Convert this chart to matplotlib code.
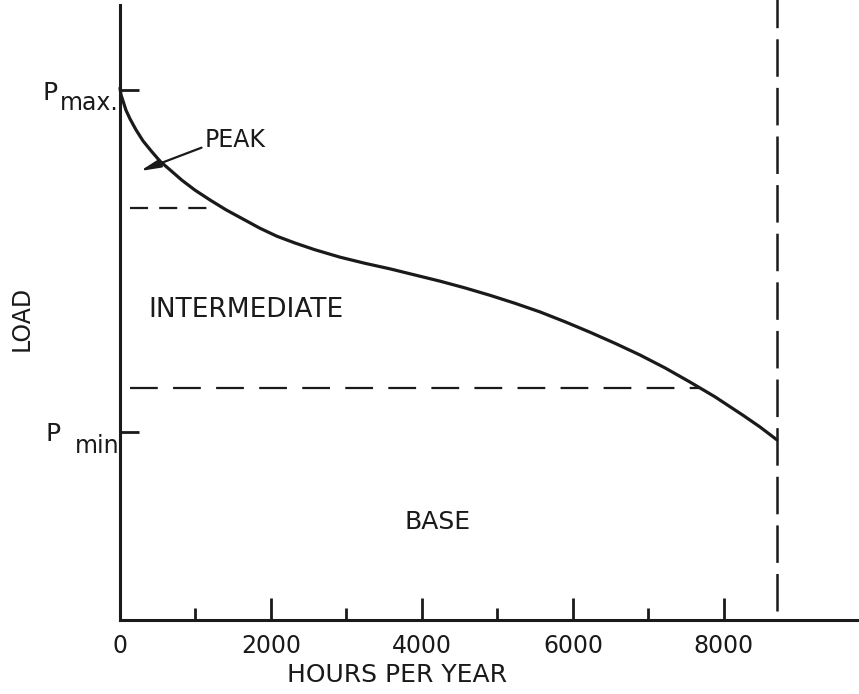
import numpy as np
import matplotlib
matplotlib.use('Agg')
from matplotlib import pyplot as plt

# load duration curve (hours, load in % of axis height)
horas = [0, 13, 40, 79, 132, 212, 305, 411, 530, 662, 821, 993, 1192, 1404,
         1629, 1854, 2079, 2318, 2583, 2914, 3245, 3576, 3907, 4238, 4570,
         4901, 5232, 5563, 5894, 6225, 6556, 6887, 7219, 7550, 7881, 8252,
         8477, 8702]
carga = [86.5, 85.4, 84.4, 82.9, 81.5, 79.7, 77.9, 76.3, 74.6, 73.2, 71.5, 69.9,
         68.3, 66.7, 65.2, 63.7, 62.4, 61.3, 60.2, 59.0, 58.0, 57.1, 56.1, 55.1,
         54.0, 52.8, 51.5, 50.1, 48.5, 46.8, 45.0, 43.1, 41.0, 38.7, 36.3, 33.3,
         31.4, 29.3]

p_max = 86.2
p_min = 30.6
lim_pico = 67.0          # fronteira pico / intermediaria
lim_base = 37.7          # fronteira intermediaria / base
fim_ano = 8702           # linha vertical tracejada

xticks_maior = [0, 2000, 4000, 6000, 8000]
xticks_menor = [1000, 3000, 5000, 7000]

plt.rcParams['font.family'] = ['DejaVu Sans']
plt.rcParams['lines.scale_dashes'] = False

fig = plt.figure(figsize=(8.59, 6.94), dpi=100)
ax = fig.add_axes([120 / 859, 74 / 694, 739 / 859, 615 / 694])
ax.set_xlim(0, 9790)
ax.set_ylim(0, 100)

preto = '#1a1a1a'

# curva de carga
ax.plot(horas, carga, color=preto, lw=2.3, solid_capstyle='round',
        solid_joinstyle='round', clip_on=False)

# linhas tracejadas
ax.plot([132, 1150], [lim_pico, lim_pico], color=preto, lw=1.6, dashes=(13, 8))
ax.plot([132, 7682], [lim_base, lim_base], color=preto, lw=1.6, dashes=(20, 11))
ax.plot([fim_ano, fim_ano], [1.5, 101], color=preto, lw=1.8, dashes=(27, 8), clip_on=False)

# eixos
for s in ['top', 'right']:
    ax.spines[s].set_visible(False)
for s in ['left', 'bottom']:
    ax.spines[s].set_linewidth(2.2)
    ax.spines[s].set_color(preto)

ax.set_xticks(xticks_maior)
ax.set_xticks(xticks_menor, minor=True)
ax.tick_params(axis='x', which='major', direction='in', length=16, width=2, pad=10,
               labelsize=17, colors=preto)
ax.tick_params(axis='x', which='minor', direction='in', length=9, width=2, colors=preto)

ax.set_yticks([p_max, p_min])
ax.set_yticklabels(['', ''])
ax.tick_params(axis='y', direction='in', length=14, width=2, colors=preto)

# textos
ax.text(-1033, 84.6, 'P', fontsize=18, va='baseline', ha='left', color=preto, clip_on=False)
ax.text(-795, 83.0, 'max.', fontsize=17, va='baseline', ha='left', color=preto, clip_on=False)
ax.text(-990, 29.1, 'P', fontsize=18, va='baseline', ha='left', color=preto, clip_on=False)
ax.text(-600, 27.1, 'min', fontsize=17, va='baseline', ha='left', color=preto, clip_on=False)

ax.text(-1298, 49.1, 'LOAD', fontsize=17, rotation=90, ha='center', va='center',
        color=preto, clip_on=False)

ax.text(1126, 78.0, 'PEAK', fontsize=17, ha='left', va='center', color=preto)
ax.annotate('', xy=(265, 73.0), xytext=(1080, 76.8),
            arrowprops=dict(arrowstyle='-|>,head_length=1.2,head_width=0.25',
                            color=preto, lw=1.6, shrinkA=0, shrinkB=0))

ax.text(371, 50.4, 'INTERMEDIATE', fontsize=19, ha='left', va='center', color=preto)
ax.text(3775, 15.9, 'BASE', fontsize=18, ha='left', va='center', color=preto)
ax.text(3669, -8.9, 'HOURS PER YEAR', fontsize=18, ha='center', va='center',
        color=preto, clip_on=False)

fig.savefig('out.png', dpi=100, facecolor='white')
